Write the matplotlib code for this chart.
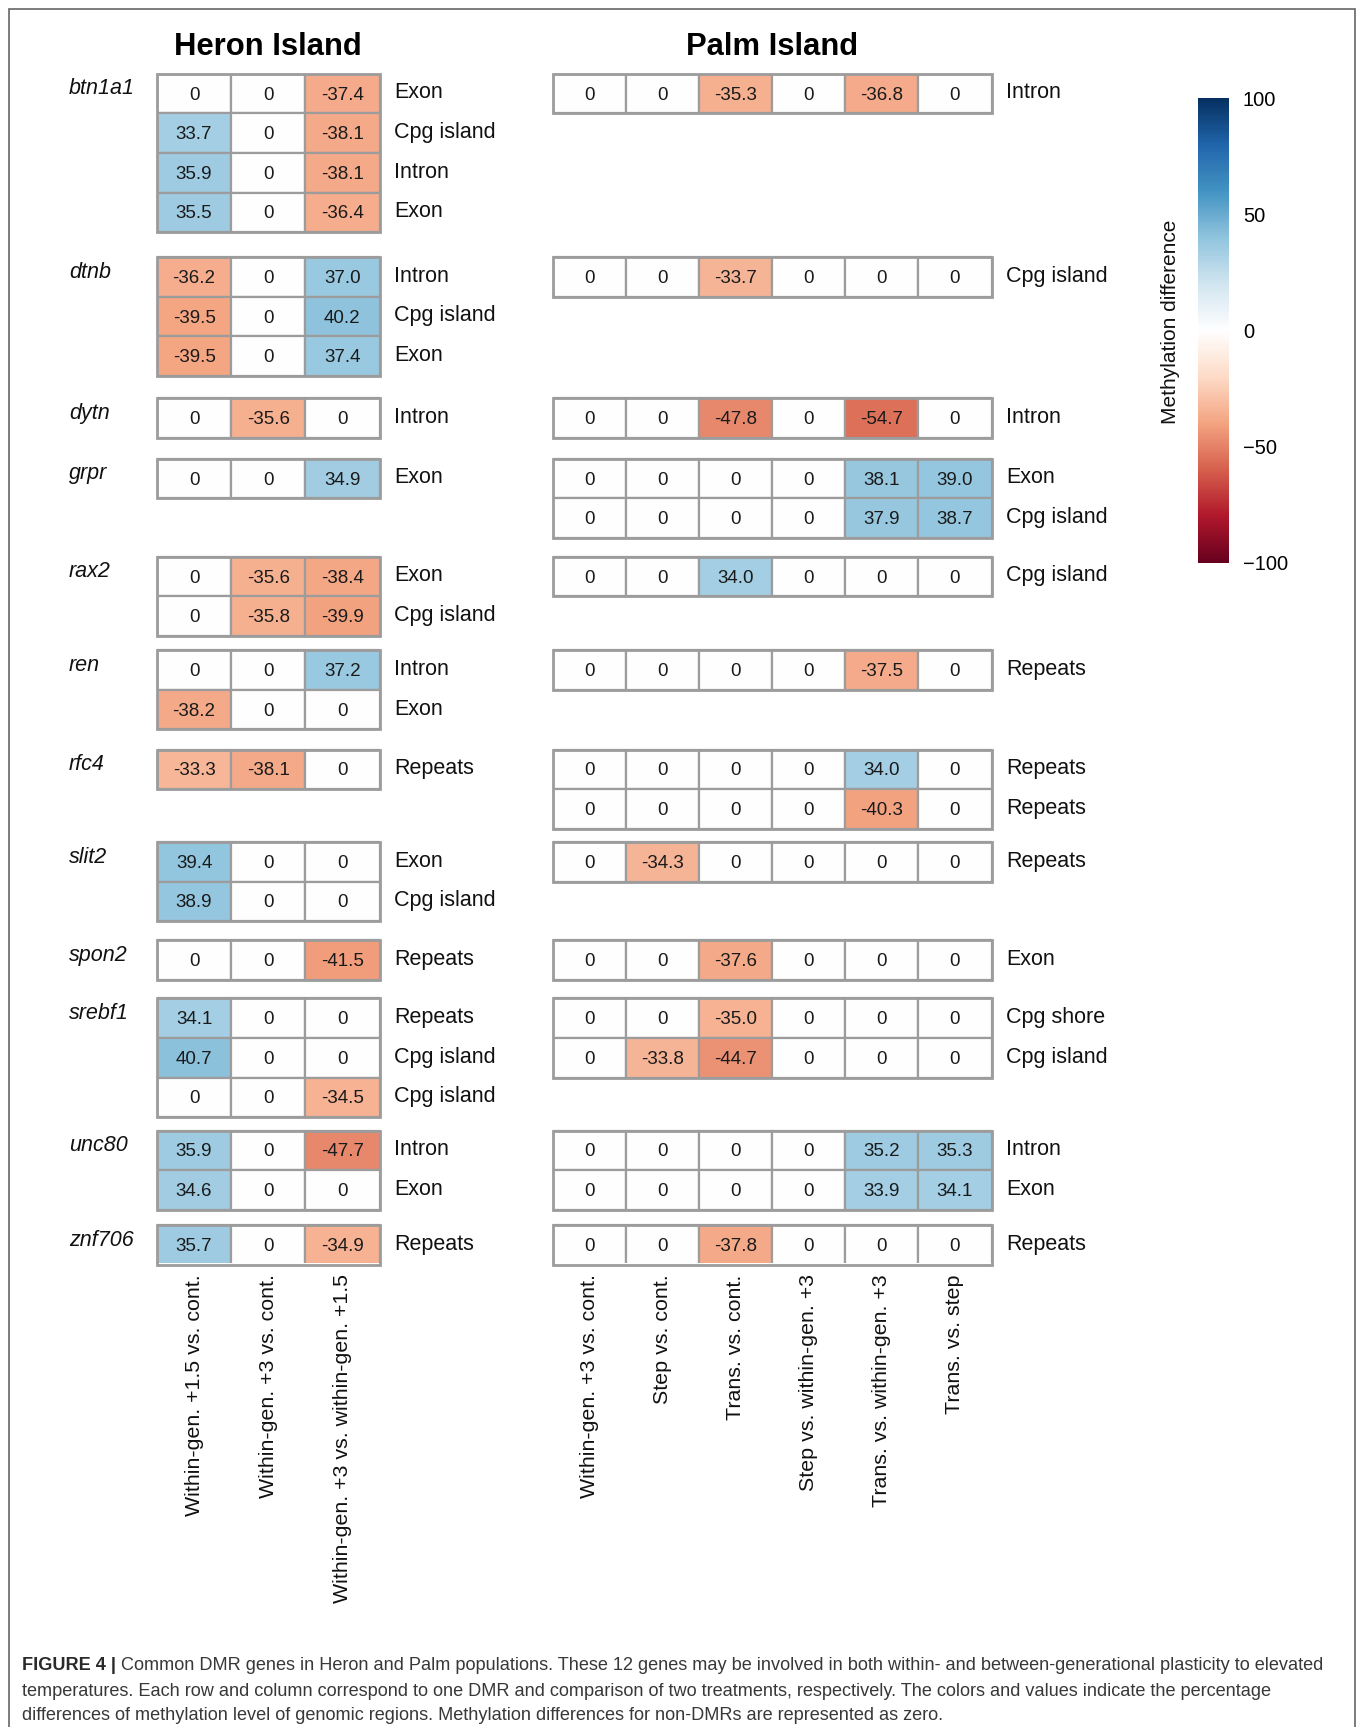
import matplotlib
matplotlib.use('Agg')
import matplotlib.pyplot as plt
import numpy as np
from matplotlib.colors import Normalize, LinearSegmentedColormap
from matplotlib.transforms import blended_transform_factory
from matplotlib.patches import Rectangle
import matplotlib.cm as cm

plt.rcParams['font.family'] = ['Liberation Sans', 'DejaVu Sans']

# ---------------- data ----------------
genes = ['btn1a1', 'dtnb', 'dytn', 'grpr', 'rax2', 'ren', 'rfc4', 'slit2',
         'spon2', 'srebf1', 'unc80', 'znf706']

heron_cols = ['Within-gen. +1.5 vs. cont.', 'Within-gen. +3 vs. cont.',
              'Within-gen. +3 vs. within-gen. +1.5']
palm_cols = ['Within-gen. +3 vs. cont.', 'Step vs. cont.', 'Trans. vs. cont.',
             'Step vs. within-gen. +3', 'Trans. vs. within-gen. +3', 'Trans. vs. step']

heron_values = [
    [[0, 0, -37.4], [33.7, 0, -38.1], [35.9, 0, -38.1], [35.5, 0, -36.4]],
    [[-36.2, 0, 37.0], [-39.5, 0, 40.2], [-39.5, 0, 37.4]],
    [[0, -35.6, 0]],
    [[0, 0, 34.9]],
    [[0, -35.6, -38.4], [0, -35.8, -39.9]],
    [[0, 0, 37.2], [-38.2, 0, 0]],
    [[-33.3, -38.1, 0]],
    [[39.4, 0, 0], [38.9, 0, 0]],
    [[0, 0, -41.5]],
    [[34.1, 0, 0], [40.7, 0, 0], [0, 0, -34.5]],
    [[35.9, 0, -47.7], [34.6, 0, 0]],
    [[35.7, 0, -34.9]],
]
heron_regions = [
    ['Exon', 'Cpg island', 'Intron', 'Exon'],
    ['Intron', 'Cpg island', 'Exon'],
    ['Intron'],
    ['Exon'],
    ['Exon', 'Cpg island'],
    ['Intron', 'Exon'],
    ['Repeats'],
    ['Exon', 'Cpg island'],
    ['Repeats'],
    ['Repeats', 'Cpg island', 'Cpg island'],
    ['Intron', 'Exon'],
    ['Repeats'],
]

palm_values = [
    [[0, 0, -35.3, 0, -36.8, 0]],
    [[0, 0, -33.7, 0, 0, 0]],
    [[0, 0, -47.8, 0, -54.7, 0]],
    [[0, 0, 0, 0, 38.1, 39.0], [0, 0, 0, 0, 37.9, 38.7]],
    [[0, 0, 34.0, 0, 0, 0]],
    [[0, 0, 0, 0, -37.5, 0]],
    [[0, 0, 0, 0, 34.0, 0], [0, 0, 0, 0, -40.3, 0]],
    [[0, -34.3, 0, 0, 0, 0]],
    [[0, 0, -37.6, 0, 0, 0]],
    [[0, 0, -35.0, 0, 0, 0], [0, -33.8, -44.7, 0, 0, 0]],
    [[0, 0, 0, 0, 35.2, 35.3], [0, 0, 0, 0, 33.9, 34.1]],
    [[0, 0, -37.8, 0, 0, 0]],
]
palm_regions = [
    ['Intron'],
    ['Cpg island'],
    ['Intron'],
    ['Exon', 'Cpg island'],
    ['Cpg island'],
    ['Repeats'],
    ['Repeats', 'Repeats'],
    ['Repeats'],
    ['Exon'],
    ['Cpg shore', 'Cpg island'],
    ['Intron', 'Exon'],
    ['Repeats'],
]

cbar_ticks = [-100, -50, 0, 50, 100]
cbar_ticklabels = ['\u2212100', '\u221250', '0', '50', '100']

caption_bold = 'FIGURE 4 |'
caption_lines = [
    ' Common DMR genes in Heron and Palm populations. These 12 genes may be involved in both within- and between-generational plasticity to elevated',
    'temperatures. Each row and column correspond to one DMR and comparison of two treatments, respectively. The colors and values indicate the percentage',
    'differences of methylation level of genomic regions. Methylation differences for non-DMRs are represented as zero.',
]

# ---------------- layout ----------------
W, H = 1360, 1727
fig = plt.figure(figsize=(W / 100, H / 100), dpi=100)
fig.patch.set_facecolor('white')

base = plt.get_cmap('RdBu')
cols11 = [base(x) for x in np.linspace(0, 1, 11)]
cols11[5] = (1.0, 1.0, 1.0, 1.0)
cmap = LinearSegmentedColormap.from_list('RdBu_w', cols11, N=256)
norm = Normalize(-100, 100)

top_px, bot_px = 73.7, 1263.2
row_px = 39.6
# top pixel of each gene block (layout)
block_top_px = [73.7, 257.2, 398.1, 458.7, 556.7, 650.3, 749.5, 842.0,
                940.0, 998.4, 1130.5, 1225.0]
starts = [(b - top_px) / row_px for b in block_top_px]
total = (bot_px - top_px) / row_px


def make_ax(x0, x1):
    ax = fig.add_axes([x0 / W, 1 - bot_px / H, (x1 - x0) / W, (bot_px - top_px) / H])
    ax.set_ylim(total, 0)
    ax.axis('off')
    return ax


ax_h = make_ax(157, 379.5)
ax_p = make_ax(552.8, 991.5)

edge = '#9c9c9c'


def draw_panel(ax, values, regions, cols):
    ncol = len(cols)
    ax.set_xlim(0, ncol)
    for g, (vals, regs) in enumerate(zip(values, regions)):
        arr = np.array(vals, dtype=float)
        nr = arr.shape[0]
        y0 = starts[g]
        xe = np.arange(ncol + 1)
        ye = y0 + np.arange(nr + 1)
        ax.pcolormesh(xe, ye, arr, cmap=cmap, norm=norm, edgecolors=edge,
                      linewidth=1.6, antialiased=True)
        ax.add_patch(Rectangle((0, y0), ncol, nr, fill=False, edgecolor=edge,
                               linewidth=2.0, clip_on=False))
        for r in range(nr):
            for c in range(ncol):
                v = arr[r, c]
                s = '0' if v == 0 else f'{v:.1f}'
                ax.text(c + 0.5, y0 + r + 0.54, s, ha='center', va='center',
                        fontsize=13.5, color='#1a1a1a')
            ax.annotate(regs[r], xy=(ncol, y0 + r + 0.5), xycoords='data',
                        xytext=(10.5, 0.5), textcoords='offset points',
                        ha='left', va='center', fontsize=15.5, color='#111111',
                        annotation_clip=False)
    for c, lab in enumerate(cols):
        ax.annotate(lab, xy=(c + 0.5, 0), xycoords=('data', 'axes fraction'),
                    xytext=(0, -8), textcoords='offset points', rotation=90,
                    ha='center', va='top', fontsize=15.4, color='#111111',
                    annotation_clip=False)


draw_panel(ax_h, heron_values, heron_regions, heron_cols)
draw_panel(ax_p, palm_values, palm_regions, palm_cols)

# gene names
tr = blended_transform_factory(fig.transFigure, ax_h.transData)
for g, name in enumerate(genes):
    ax_h.text(69 / W, starts[g] + 0.38, name, transform=tr, ha='left', va='center',
              fontsize=15.5, style='italic', color='#111111')

# titles
fig.text(268 / W, 1 - 47 / H, 'Heron Island', ha='center', va='center',
         fontsize=22.3, fontweight='bold')
fig.text(772 / W, 1 - 47 / H, 'Palm Island', ha='center', va='center',
         fontsize=22.3, fontweight='bold')

# colorbar
cax = fig.add_axes([1198 / W, 1 - 563 / H, 31 / W, 465 / H])
sm = cm.ScalarMappable(norm=norm, cmap=cmap)
cb = fig.colorbar(sm, cax=cax, ticks=cbar_ticks)
cb.outline.set_visible(False)
cax.tick_params(length=0, pad=10, labelsize=14.5)
cax.set_yticklabels(cbar_ticklabels)
fig.text(1170 / W, 1 - 322 / H, 'Methylation difference', rotation=90,
         ha='center', va='center', fontsize=15, color='#111111')

# frame
fig.patches.append(Rectangle((9 / W, -0.01), (1355 - 9) / W, 1.01 - 9 / H,
                             transform=fig.transFigure, fill=False,
                             edgecolor='#666666', linewidth=1.2))

# caption
cap_fs = 13.1
cap_col = '#383838'
t0 = fig.text(22 / W, 1 - 1665 / H, caption_bold, ha='left', va='center',
              fontsize=cap_fs, fontweight='bold', color='#2a2a2a')
fig.canvas.draw()
bb = t0.get_window_extent()
fig.text(bb.x1 / W, 1 - 1665 / H, caption_lines[0], ha='left', va='center',
         fontsize=cap_fs, color=cap_col)
fig.text(22 / W, 1 - 1691 / H, caption_lines[1], ha='left', va='center',
         fontsize=cap_fs, color=cap_col)
fig.text(22 / W, 1 - 1716 / H, caption_lines[2], ha='left', va='center',
         fontsize=cap_fs, color=cap_col)

fig.savefig('out.png', dpi=100, facecolor='white')
